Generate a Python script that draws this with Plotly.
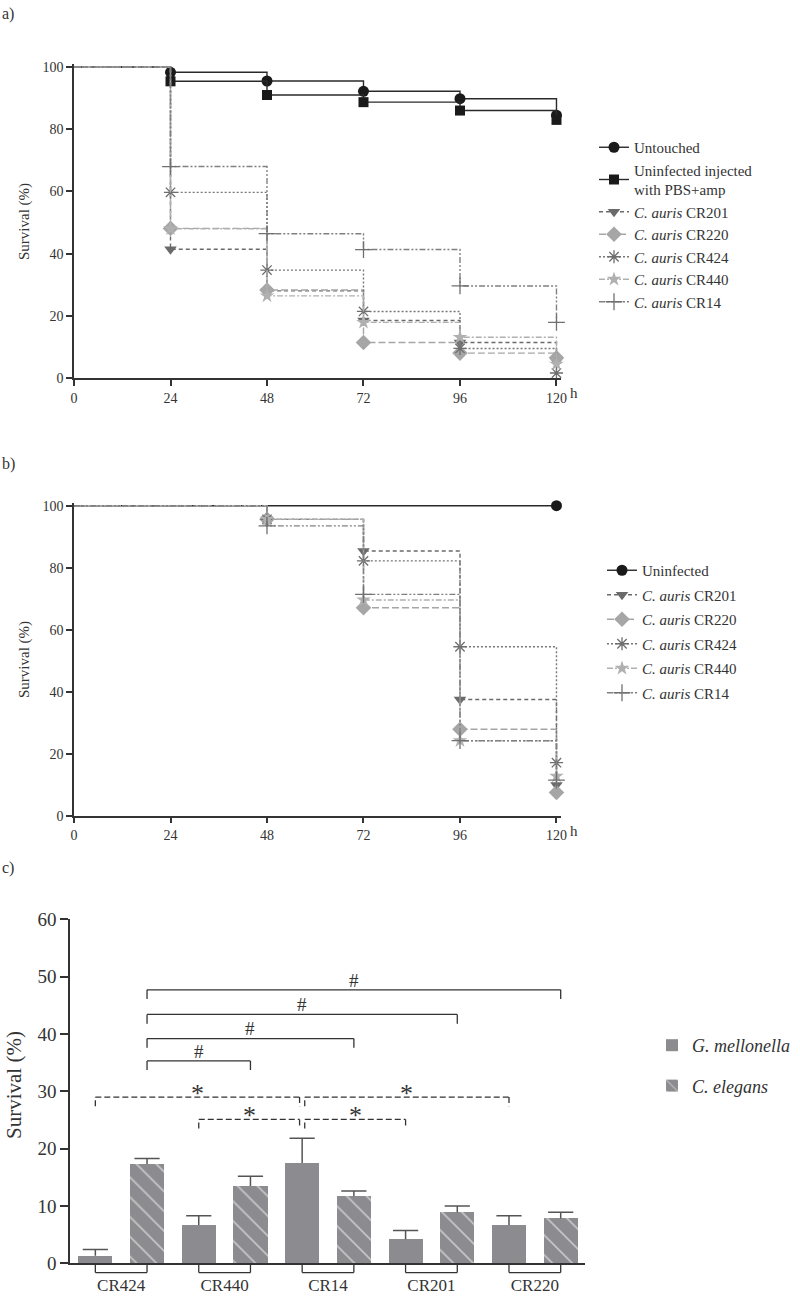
import plotly.graph_objects as go

W, H = 800, 1304

# ---------------- data ----------------
times_a = [0, 24, 48, 72, 96, 120]
a_untouched = [100, 98.3, 95.5, 92.2, 89.8, 84.5]
a_pbs_amp = [100, 95.4, 91.0, 88.7, 86.0, 83.0]
a_cr201 = [100, 41.4, 28.0, 18.5, 11.4, 5.3]
a_cr220 = [100, 48.1, 28.3, 11.4, 8.0, 6.5]
a_cr424 = [100, 59.7, 34.7, 21.4, 9.5, 1.6]
a_cr440 = [100, 48.0, 26.4, 17.9, 13.1, 4.5]
a_cr14 = [100, 68.0, 46.4, 41.3, 29.6, 17.9]

times_b = [0, 48, 72, 96, 120]
b_uninfected = [100, 100, 100, 100, 100]
b_cr201 = [100, 95.6, 85.4, 37.5, 9.9]
b_cr220 = [100, 95.6, 67.1, 27.9, 7.5]
b_cr424 = [100, 95.6, 82.2, 54.5, 17.1]
b_cr440 = [100, 95.6, 69.6, 24.2, 12.8]
b_cr14 = [100, 93.5, 71.4, 24.2, 11.5]

time_ticks = [0, 24, 48, 72, 96, 120]
surv_ticks = [0, 20, 40, 60, 80, 100]

strains = ["CR424", "CR440", "CR14", "CR201", "CR220"]
gm_vals = [1.3, 6.7, 17.5, 4.2, 6.7]
gm_err = [1.1, 1.6, 4.3, 1.5, 1.6]
ce_vals = [17.3, 13.5, 11.7, 8.9, 7.8]
ce_err = [1.0, 1.7, 0.9, 1.1, 1.1]
c_ticks = [0, 10, 20, 30, 40, 50, 60]

# significance brackets: (from bar index, to bar index, level)
hash_brackets = [(1, 3, 35.3), (1, 5, 39.2), (1, 7, 43.4), (1, 9, 47.7)]
star_brackets = [(0, 3.95, 29.0), (2, 3.95, 25.1), (4.05, 6, 25.1), (4.05, 8, 29.0)]

FONT = "Liberation Serif"
TXT = "#333333"

def py(p):
    return 1 - p / H

fig = go.Figure()

styles = {
    "untouched": dict(symbol="circle", size=11, color="#1a1a1a", dash="solid", lcolor="#2a2a2a", open=False),
    "pbs": dict(symbol="square", size=10, color="#1a1a1a", dash="solid", lcolor="#2a2a2a", open=False),
    "cr201": dict(symbol="triangle-down", size=11, color="#6a6a6a", dash="4px,3px", lcolor="#6a6a6a", open=False),
    "cr220": dict(symbol="diamond", size=12, color="#a6a6a6", dash="7px,3px", lcolor="#a6a6a6", open=False),
    "cr424": dict(symbol="asterisk-open", size=11, color="#6e6e6e", dash="2px,2px", lcolor="#777777", open=True),
    "cr440": dict(symbol="star", size=11, color="#b0b0b0", dash="6px,2px,2px,2px", lcolor="#b0b0b0", open=False),
    "cr14": dict(symbol="cross-thin-open", size=12, color="#707070", dash="6px,2px,2px,2px,2px,2px", lcolor="#808080", open=True),
}

def add_km(x, y, name, key, xa, ya, legend, marker_mask):
    s = styles[key]
    if s["open"]:
        marker = dict(symbol=s["symbol"], size=s["size"], color=s["color"],
                      line=dict(color=s["color"], width=1.3))
    else:
        marker = dict(symbol=s["symbol"], size=s["size"], color=s["color"], line=dict(width=0))
    fig.add_trace(go.Scatter(
        x=x, y=y, name=name, mode="lines+markers", line_shape="hv",
        line=dict(color=s["lcolor"], width=1.4, dash=s["dash"]),
        marker=marker, xaxis=xa, yaxis=ya, legend=legend, legendgroup=legend + key,
        selectedpoints=[i for i, m in enumerate(marker_mask) if m],
        selected=dict(marker=dict(opacity=1)),
        unselected=dict(marker=dict(opacity=0)),
        cliponaxis=False,
    ))

mask_a = [False, True, True, True, True, True]
add_km(times_a, a_untouched, "Untouched", "untouched", "x", "y", "legend", mask_a)
add_km(times_a, a_pbs_amp, "Uninfected injected<br>with PBS+amp", "pbs", "x", "y", "legend", mask_a)
add_km(times_a, a_cr201, "<i>C. auris</i> CR201", "cr201", "x", "y", "legend", mask_a)
add_km(times_a, a_cr220, "<i>C. auris</i> CR220", "cr220", "x", "y", "legend", mask_a)
add_km(times_a, a_cr424, "<i>C. auris</i> CR424", "cr424", "x", "y", "legend", mask_a)
add_km(times_a, a_cr440, "<i>C. auris</i> CR440", "cr440", "x", "y", "legend", mask_a)
add_km(times_a, a_cr14, "<i>C. auris</i> CR14", "cr14", "x", "y", "legend", mask_a)

mask_b = [False, True, True, True, True]
add_km(times_b, b_uninfected, "Uninfected", "untouched", "x2", "y2", "legend2", [False, False, False, False, True])
add_km(times_b, b_cr201, "<i>C. auris</i> CR201", "cr201", "x2", "y2", "legend2", mask_b)
add_km(times_b, b_cr220, "<i>C. auris</i> CR220", "cr220", "x2", "y2", "legend2", mask_b)
add_km(times_b, b_cr424, "<i>C. auris</i> CR424", "cr424", "x2", "y2", "legend2", mask_b)
add_km(times_b, b_cr440, "<i>C. auris</i> CR440", "cr440", "x2", "y2", "legend2", mask_b)
add_km(times_b, b_cr14, "<i>C. auris</i> CR14", "cr14", "x2", "y2", "legend2", mask_b)

# ---------------- panel c bars ----------------
gm_x = [2 * i for i in range(len(strains))]
ce_x = [2 * i + 1 for i in range(len(strains))]
BAR = "#8c8c90"
ERR = "#555555"
fig.add_trace(go.Bar(
    x=gm_x, y=gm_vals, width=0.66, name="<i>G. mellonella</i>",
    marker=dict(color=BAR, line=dict(width=0)),
    xaxis="x3", yaxis="y3", legend="legend3", legendgroup="gm",
))
fig.add_trace(go.Bar(
    x=ce_x, y=ce_vals, width=0.66, name="<i>C. elegans</i>",
    marker=dict(color=BAR, line=dict(width=0),
                pattern=dict(shape="\\", fgcolor="white", bgcolor=BAR, size=14, solidity=0.12)),
    xaxis="x3", yaxis="y3", legend="legend3", legendgroup="ce",
))
# upper-only error bars (cap at the top, none on the bar)
for xs, vals, errs in [(gm_x, gm_vals, gm_err), (ce_x, ce_vals, ce_err)]:
    fig.add_trace(go.Scatter(
        x=xs, y=[v + e for v, e in zip(vals, errs)], mode="markers",
        marker=dict(symbol="line-ew-open", size=18, color=ERR, line=dict(color=ERR, width=1.5)),
        error_y=dict(type="data", symmetric=False, array=[0] * len(errs), arrayminus=errs,
                     width=0, color=ERR, thickness=1.5),
        xaxis="x3", yaxis="y3", showlegend=False, hoverinfo="skip",
    ))

shapes = []
annotations = []
TICKD = 1.6
for (a, b, lvl) in hash_brackets:
    for (x0, y0, x1, y1) in [(a, lvl - TICKD, a, lvl), (a, lvl, b, lvl), (b, lvl, b, lvl - TICKD)]:
        shapes.append(dict(type="line", xref="x3", yref="y3", x0=x0, y0=y0, x1=x1, y1=y1,
                           line=dict(color="#333333", width=1.3)))
    annotations.append(dict(text="#", xref="x3", yref="y3", x=(a + b) / 2, y=lvl - 0.5,
                            yanchor="bottom", showarrow=False, font=dict(family=FONT, size=19, color=TXT)))
for (a, b, lvl) in star_brackets:
    for (x0, y0, x1, y1) in [(a, lvl - TICKD, a, lvl), (a, lvl, b, lvl), (b, lvl, b, lvl - TICKD)]:
        shapes.append(dict(type="line", xref="x3", yref="y3", x0=x0, y0=y0, x1=x1, y1=y1,
                           line=dict(color="#333333", width=1.3, dash="6px,3px")))
    annotations.append(dict(text="*", xref="x3", yref="y3", x=(a + b) / 2, y=lvl - 2.2,
                            yanchor="bottom", showarrow=False, font=dict(family=FONT, size=26, color=TXT)))
# group brackets below axis
for g, c in zip(gm_x, ce_x):
    for (x0, y0, x1, y1) in [(g, 0, g, -0.027), (g, -0.027, c, -0.027), (c, -0.027, c, 0)]:
        shapes.append(dict(type="line", xref="x3", yref="y3 domain", x0=x0, y0=y0, x1=x1, y1=y1,
                           line=dict(color="#333333", width=1.3)))

# panel labels and titles
for txt, ypx in [("a)", 14), ("b)", 464), ("c)", 868)]:
    annotations.append(dict(text=txt, xref="paper", yref="paper", x=0.0, y=py(ypx), xanchor="left",
                            yanchor="middle", showarrow=False, font=dict(family=FONT, size=16, color=TXT)))
for ycen, xc, fs in [(222, 24, 15), (660, 24, 15), (1085, 14, 21)]:
    annotations.append(dict(text="Survival (%)", xref="paper", yref="paper", x=xc / W, y=py(ycen),
                            textangle=-90, showarrow=False, xanchor="center", yanchor="middle",
                            font=dict(family=FONT, size=fs, color=TXT)))
for ypx in [393, 831]:
    annotations.append(dict(text="h", xref="paper", yref="paper", x=574 / W, y=py(ypx),
                            showarrow=False, xanchor="center", yanchor="middle",
                            font=dict(family=FONT, size=15, color=TXT)))

axis_common = dict(showline=True, linecolor="#333333", linewidth=1.5, ticks="outside", ticklen=6,
                   tickwidth=1.5, tickcolor="#333333", showgrid=False, zeroline=False,
                   tickfont=dict(family=FONT, size=14, color=TXT))

xdom_ab = [74 / W, 560.5 / W]
fig.update_layout(
    width=W, height=H, paper_bgcolor="white", plot_bgcolor="white",
    margin=dict(l=0, r=0, t=0, b=0, autoexpand=False),
    showlegend=True,
    xaxis=dict(domain=xdom_ab, range=[0, 121], tickvals=time_ticks, anchor="y", **axis_common),
    yaxis=dict(domain=[py(378), py(63.9)], range=[0, 101], tickvals=surv_ticks, anchor="x", **axis_common),
    xaxis2=dict(domain=xdom_ab, range=[0, 121], tickvals=time_ticks, anchor="y2", **axis_common),
    yaxis2=dict(domain=[py(815.7), py(502.6)], range=[0, 101], tickvals=surv_ticks, anchor="x2", **axis_common),
    xaxis3=dict(domain=[70 / W, 585 / W], range=[-0.49, 9.47], tickvals=[x + 0.5 for x in gm_x],
                ticktext=strains, anchor="y3", showline=True, linecolor="#333333", linewidth=1.5,
                ticks="outside", ticklen=6, tickcolor="rgba(0,0,0,0)", showgrid=False, zeroline=False,
                tickfont=dict(family=FONT, size=17, color=TXT)),
    yaxis3=dict(domain=[py(1263.3), py(919.3)], range=[0, 60], tickvals=c_ticks, anchor="x3",
                showline=True, linecolor="#333333", linewidth=1.5, ticks="outside", ticklen=8,
                tickwidth=1.5, tickcolor="#333333", showgrid=False, zeroline=False,
                tickfont=dict(family=FONT, size=19, color=TXT)),
    legend=dict(x=594 / W, y=py(131), xanchor="left", yanchor="top", bgcolor="rgba(0,0,0,0)",
                font=dict(family=FONT, size=15, color=TXT), tracegroupgap=0),
    legend2=dict(x=602 / W, y=py(554), xanchor="left", yanchor="top", bgcolor="rgba(0,0,0,0)",
                 font=dict(family=FONT, size=15, color=TXT), tracegroupgap=2),
    legend3=dict(x=652 / W, y=py(1027), xanchor="left", yanchor="top", bgcolor="rgba(0,0,0,0)",
                 font=dict(family=FONT, size=18, color=TXT), tracegroupgap=14),
    shapes=shapes, annotations=annotations,
    bargap=0,
)

fig.write_html("out.html", config={"displayModeBar": False},
               post_script="document.body.style.margin='0px';")
